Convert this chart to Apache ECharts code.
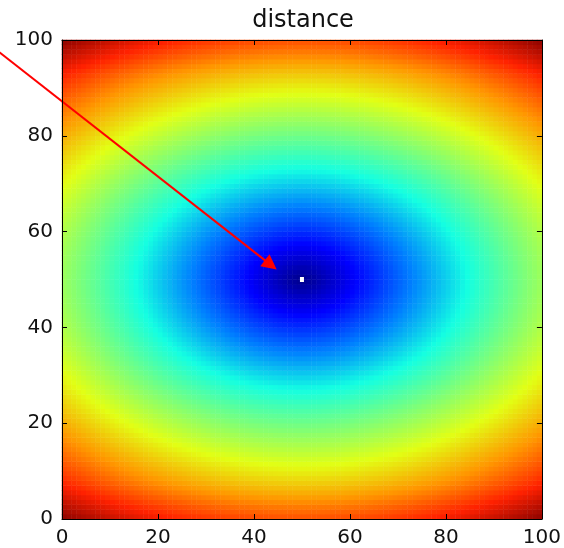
<!DOCTYPE html>
<html><head><meta charset="utf-8">
<script src="https://cdn.jsdelivr.net/npm/echarts@6/dist/echarts.min.js"></script>
<style>html,body{margin:0;padding:0;background:#fff}#c{width:564px;height:548px}</style>
</head><body><div id="c"></div>
<script>
const titleText = 'distance';
// field level read along the horizontal mid-line, one per column (x = 0..99)
const xLevels = [.525,.514,.504,.493,.483,.472,.462,.451,.441,.430,.420,.409,.399,.388,.378,.367,.357,.346,.336,.325,.315,.304,.294,.283,.273,.262,.252,.241,.231,.220,.210,.199,.189,.178,.168,.157,.147,.136,.126,.115,.105,.094,.084,.073,.063,.052,.042,.031,.021,.010,
.010,.021,.031,.042,.052,.063,.073,.084,.094,.105,.115,.126,.136,.147,.157,.168,.178,.189,.199,.210,.220,.231,.241,.252,.262,.273,.283,.294,.304,.315,.325,.336,.346,.357,.367,.378,.388,.399,.409,.420,.430,.441,.451,.462,.472,.483,.493,.504,.514,.525];
// field level read along the vertical mid-line, one per row (y = 0..99, bottom to top)
const yLevels = [.800,.783,.765,.746,.727,.708,.689,.671,.654,.638,.622,.607,.591,.576,.560,.545,.529,.514,.498,.483,.467,.452,.436,.421,.405,.390,.374,.359,.343,.328,.312,.297,.281,.266,.250,.235,.219,.204,.188,.173,.157,.142,.126,.111,.095,.080,.064,.049,.033,.018,
.018,.033,.049,.064,.080,.095,.111,.126,.142,.157,.173,.188,.204,.219,.235,.250,.266,.281,.297,.312,.328,.343,.359,.374,.390,.405,.421,.436,.452,.467,.483,.498,.514,.529,.545,.560,.576,.591,.607,.622,.638,.654,.671,.689,.708,.727,.746,.765,.783,.800];
const centerMarker = [[50, 50]];
const arrowFrom = [-14, 98.2];
const arrowTo = [43.5, 53.05];
const axisMin = 0, axisMax = 100, tickStep = 20;
const levelMax = 0.98;
const jetColors = ['#00007f','#0000ff','#007fff','#14ffe2','#7bff7b','#e2ff14','#ff9700','#ff2100','#7f0000'];

const cats = xLevels.map((_, i) => String(i));
const cells = [];
for (let i = 0; i < xLevels.length; i++) {
  for (let j = 0; j < yLevels.length; j++) {
    cells.push([i, j, Math.hypot(xLevels[i], yLevels[j])]);
  }
}

const font = 'DejaVu Sans';
function valAxis(pos, showLabel) {
  return {
    type: 'value', gridIndex: 0, position: pos, min: axisMin, max: axisMax, interval: tickStep, z: 10,
    axisLine: {show: true, onZero: false, lineStyle: {color: '#000', width: 1}},
    axisTick: {show: true, inside: true, length: 5, lineStyle: {color: '#000', width: 1}},
    axisLabel: {show: showLabel, margin: (pos === 'bottom') ? 9 : 9, fontSize: 20, color: '#111', fontFamily: font},
    splitLine: {show: false}
  };
}

const chart = echarts.init(document.getElementById('c'), null, {renderer: 'canvas'});
chart.setOption({
  animation: false,
  backgroundColor: '#fff',
  title: {text: titleText, left: 303, top: 9, padding: 0, textAlign: 'center',
    textStyle: {fontSize: 24, fontWeight: 'normal', color: '#111', fontFamily: font}},
  grid: {left: 62, top: 40, right: 19, bottom: 26, containLabel: false},
  xAxis: [
    {type: 'category', gridIndex: 0, data: cats, show: false, position: 'bottom'},
    valAxis('bottom', true),
    valAxis('top', false)
  ],
  yAxis: [
    {type: 'category', gridIndex: 0, data: cats, show: false, position: 'left'},
    valAxis('left', true),
    valAxis('right', false)
  ],
  visualMap: {type: 'continuous', show: false, min: 0, max: levelMax, dimension: 2, seriesIndex: 0,
    inRange: {color: jetColors}},
  series: [
    {type: 'heatmap', xAxisIndex: 0, yAxisIndex: 0, data: cells, progressive: 0, silent: true,
      emphasis: {disabled: true}},
    {type: 'scatter', xAxisIndex: 1, yAxisIndex: 1, data: centerMarker, symbol: 'rect',
      symbolSize: [4, 5], itemStyle: {color: '#fff', opacity: 1}, silent: true, z: 5},
    {type: 'lines', coordinateSystem: 'cartesian2d', xAxisIndex: 1, yAxisIndex: 1, clip: false,
      data: [{coords: [arrowFrom, arrowTo]}], symbol: ['none', 'triangle'], symbolSize: 15,
      lineStyle: {color: '#ff0000', width: 2, opacity: 1}, silent: true, z: 6}
  ]
});
</script></body></html>
